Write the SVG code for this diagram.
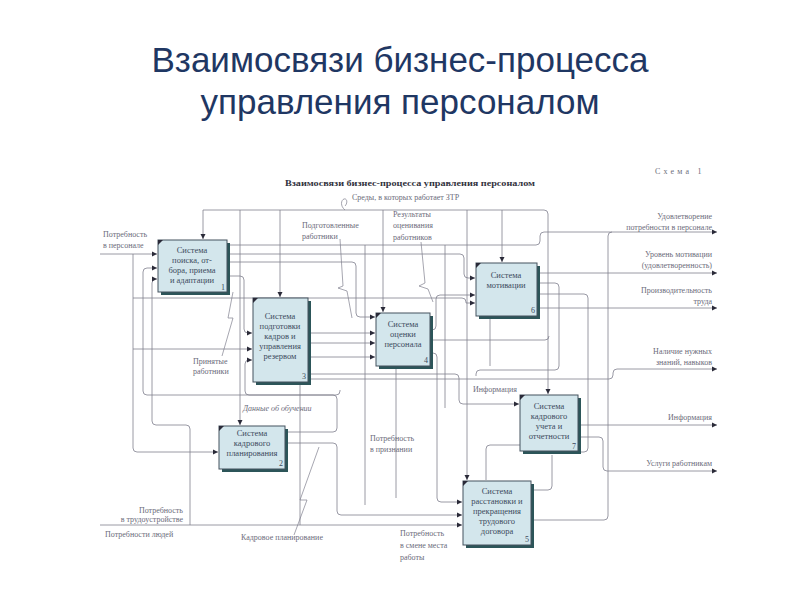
<svg xmlns="http://www.w3.org/2000/svg" width="800" height="600" viewBox="0 0 800 600">
<defs>
<marker id="ar" markerWidth="6" markerHeight="6" refX="5" refY="3" orient="auto" markerUnits="userSpaceOnUse">
<path d="M0,0.5 L5,3 L0,5.5 Z" fill="#2a2a38"/>
</marker>
</defs>
<style>
.title{font-family:"Liberation Sans",Arial,sans-serif;font-size:35px;fill:#1f3763;text-anchor:middle}
.cap{font-family:"Liberation Serif","Times New Roman",serif;font-size:9px;font-weight:bold;fill:#333340}
.lbl{font-family:"Liberation Serif","Times New Roman",serif;font-size:8px;fill:#6b6b7a}
.bt{font-family:"Liberation Serif","Times New Roman",serif;font-size:8.5px;fill:#3c4a5c;text-anchor:middle}
.num{font-family:"Liberation Serif","Times New Roman",serif;font-size:8px;fill:#3c4a5c;text-anchor:end}
.sh{fill:#2c5559}
.bx{fill:#d3e6ec;stroke:#44525e;stroke-width:1}
.cn{fill:#2a2a38}
.ln{fill:none;stroke:#80808e;stroke-width:0.8}
.la{fill:none;stroke:#80808e;stroke-width:0.8;marker-end:url(#ar)}
.zz{fill:none;stroke:#80808e;stroke-width:0.7}
</style>
<rect width="800" height="600" fill="#ffffff"/>
<text class="title" x="400" y="72">Взаимосвязи бизнес-процесса</text>
<text class="title" x="400" y="114">управления персоналом</text>
<text class="cap" x="285" y="186" textLength="250" lengthAdjust="spacingAndGlyphs">Взаимосвязи бизнес-процесса управления персоналом</text>
<text class="lbl" x="655" y="174" font-size="9" letter-spacing="3.2">Схема 1</text>

<g id="connectors">
<!-- top bus -->
<path class="la" d="M203,210 V239"/>
<path class="ln" d="M203,210 H544 Q548,210 548,214"/>
<path class="la" d="M548,214 V394"/>
<path class="la" d="M240,210 V425"/>
<path class="la" d="M280,210 V297"/>
<path class="la" d="M383,210 V312"/>
<path class="la" d="M467,210 V480"/>
<path class="la" d="M502,210 V262"/>
<path class="zz" d="M345,210 C340,206 341,200 344,199 C347,198 348,203 345,206"/>
<!-- left inputs -->
<path class="la" d="M100,254 H157"/>
<path class="la" d="M133,254 V448 Q133,452 137,452 H218"/>
<path class="la" d="M133,349 H252"/>
<path class="la" d="M133,298 H462 Q466,298 466,302 V303 H475"/>
<path class="la" d="M100,525 H462"/>
<path class="la" d="M190,525 V429 Q190,425 186,425 H156 Q152,425 152,421 V283 Q152,279 156,279 H157"/>
<path class="la" d="M340,390 V391 Q340,395 336,395 H147 Q143,395 143,391 V272 Q143,268 147,268 H157"/>
<!-- box1 outputs -->
<path class="la" d="M227,245 H536 Q540,245 540,241 V236 Q540,232 544,232 H717"/>
<path class="la" d="M227,254 H460 Q464,254 464,258 V274 Q464,278 468,278 H475"/>
<path class="la" d="M227,262 H352 Q356,262 356,266 V313 Q356,317 360,317 H375"/>
<path class="la" d="M227,276 H240 Q244,276 244,280 V329 Q244,333 248,333 H252"/>
<!-- box3 outputs -->
<path class="la" d="M308,333 H375"/>
<path class="la" d="M308,343 H375"/>
<path class="la" d="M308,357 H375"/>
<path class="la" d="M308,374 H455 Q459,374 459,378 V400 Q459,404 463,404 H519"/>
<path class="la" d="M308,379 H609 Q613,379 613,375 V373 Q613,369 617,369 H717"/>
<!-- box4 outputs -->
<path class="la" d="M430,330 H432 Q436,330 436,326 V299 Q436,295 440,295 H475"/>
<path class="la" d="M430,353 H433 Q437,353 437,357 V498 Q437,502 441,502 H462"/>
<path class="ln" d="M430,340 H545 Q549,340 549,336"/>
<path class="la" d="M537,308 H717"/>
<!-- box6 outputs -->
<path class="la" d="M537,273 H717"/>
<path class="ln" d="M537,283 H555 Q559,283 559,287 V366 Q559,370 555,370 H480 Q476,370 476,374 V376"/>
<path class="ln" d="M537,294 H584 Q588,294 588,298 V448 Q588,452 584,452 H578"/>
<!-- box7 outputs -->
<path class="la" d="M578,425 H717"/>
<path class="la" d="M578,437 H599 Q603,437 603,441 V467 Q603,471 607,471 H717"/>
<path class="ln" d="M520,445 H490 Q486,445 486,449 V480"/>
<!-- box5 output -->
<path class="ln" d="M531,520 H604 Q608,520 608,516 V236 Q608,232 612,232"/>
<path class="ln" d="M531,490 H548 Q552,490 552,486 V455"/>
<!-- box2 outputs -->
<path class="la" d="M285,432 H333 Q337,432 337,428 V399 Q337,395 333,395 H249 Q245,395 245,391 V364 Q245,360 249,360 H252"/>
<path class="la" d="M285,443 H333 Q337,443 337,447 V511 Q337,515 341,515 H462"/>
<!-- misc verticals -->
<path class="ln" d="M365,245 V505"/>
<path class="ln" d="M396,366 V498"/>
<path class="ln" d="M445,245 V408"/>
<path class="ln" d="M490,316 V366"/>
<path class="ln" d="M300,382 V525"/>
<!-- zigzag label pointers -->
<path class="zz" d="M233,292 L228,318 L233,318 L222,356"/>
<path class="zz" d="M340,239 L343,286 L338,288 L347,291 L352,318"/>
<path class="zz" d="M421,242 L425,283 L419,286 L428,289 L433,302"/>
<path class="zz" d="M294,535 L307,500 L300,500 L319,447"/>
</g>

<g id="labels">
<text class="lbl" x="103" y="237">Потребность</text>
<text class="lbl" x="103" y="248">в персонале</text>
<text class="lbl" x="352" y="200">Среды, в которых работает ЗТР</text>
<text class="lbl" x="302" y="228">Подготовленные</text>
<text class="lbl" x="302" y="239">работники</text>
<text class="lbl" x="393" y="217">Результаты</text>
<text class="lbl" x="393" y="228">оценивания</text>
<text class="lbl" x="393" y="240">работников</text>
<text class="lbl" x="712" y="219" text-anchor="end">Удовлетворение</text>
<text class="lbl" x="712" y="230" text-anchor="end">потребности в персонале</text>
<text class="lbl" x="712" y="257" text-anchor="end">Уровень мотивации</text>
<text class="lbl" x="712" y="268" text-anchor="end">(удовлетворенность)</text>
<text class="lbl" x="712" y="293" text-anchor="end">Производительность</text>
<text class="lbl" x="712" y="304" text-anchor="end">труда</text>
<text class="lbl" x="712" y="354" text-anchor="end">Наличие нужных</text>
<text class="lbl" x="712" y="365" text-anchor="end">знаний, навыков</text>
<text class="lbl" x="712" y="420" text-anchor="end">Информация</text>
<text class="lbl" x="712" y="466" text-anchor="end">Услуги работникам</text>
<text class="lbl" x="193" y="364">Принятые</text>
<text class="lbl" x="193" y="374">работники</text>
<text class="lbl" x="243" y="411" font-style="italic">Данные об обучении</text>
<text class="lbl" x="370" y="441">Потребность</text>
<text class="lbl" x="370" y="452">в признании</text>
<text class="lbl" x="473" y="392">Информация</text>
<text class="lbl" x="183" y="513" text-anchor="end">Потребность</text>
<text class="lbl" x="183" y="522" text-anchor="end">в трудоустройстве</text>
<text class="lbl" x="105" y="537">Потребности людей</text>
<text class="lbl" x="241" y="540">Кадровое планирование</text>
<text class="lbl" x="400" y="536">Потребность</text>
<text class="lbl" x="400" y="548">в смене места</text>
<text class="lbl" x="400" y="560">работы</text>
</g>

<g id="node1">
<rect class="sh" x="161" y="243" width="69" height="52"/>
<rect class="bx" x="158" y="240" width="69" height="52"/>
<path class="cn" d="M158,240 h5 l-5,5 z"/>
<text class="bt" x="192" y="253">Система</text>
<text class="bt" x="192" y="263">поиска, от-</text>
<text class="bt" x="192" y="273">бора, приема</text>
<text class="bt" x="192" y="283">и адаптации</text>
<text class="num" x="225" y="290">1</text>
</g>
<g id="node3">
<rect class="sh" x="256" y="301" width="55" height="84"/>
<rect class="bx" x="253" y="298" width="55" height="84"/>
<path class="cn" d="M253,298 h5 l-5,5 z"/>
<text class="bt" x="280" y="319">Система</text>
<text class="bt" x="280" y="329">подготовки</text>
<text class="bt" x="280" y="339">кадров и</text>
<text class="bt" x="280" y="349">управления</text>
<text class="bt" x="280" y="359">резервом</text>
<text class="num" x="306" y="379">3</text>
</g>
<g id="node4">
<rect class="sh" x="379" y="316" width="54" height="53"/>
<rect class="bx" x="376" y="313" width="54" height="53"/>
<path class="cn" d="M376,313 h5 l-5,5 z"/>
<text class="bt" x="403" y="327">Система</text>
<text class="bt" x="403" y="337">оценки</text>
<text class="bt" x="403" y="347">персонала</text>
<text class="num" x="428" y="363">4</text>
</g>
<g id="node6">
<rect class="sh" x="479" y="266" width="61" height="53"/>
<rect class="bx" x="476" y="263" width="61" height="53"/>
<path class="cn" d="M476,263 h5 l-5,5 z"/>
<text class="bt" x="506" y="278">Система</text>
<text class="bt" x="506" y="288">мотивации</text>
<text class="num" x="535" y="313">6</text>
</g>
<g id="node2">
<rect class="sh" x="222" y="429" width="66" height="43"/>
<rect class="bx" x="219" y="426" width="66" height="43"/>
<path class="cn" d="M219,426 h5 l-5,5 z"/>
<text class="bt" x="252" y="436">Система</text>
<text class="bt" x="252" y="446">кадрового</text>
<text class="bt" x="252" y="456">планирования</text>
<text class="num" x="283" y="466">2</text>
</g>
<g id="node7">
<rect class="sh" x="523" y="398" width="58" height="56"/>
<rect class="bx" x="520" y="395" width="58" height="56"/>
<path class="cn" d="M520,395 h5 l-5,5 z"/>
<text class="bt" x="549" y="409">Система</text>
<text class="bt" x="549" y="419">кадрового</text>
<text class="bt" x="549" y="429">учета и</text>
<text class="bt" x="549" y="439">отчетности</text>
<text class="num" x="576" y="449">7</text>
</g>
<g id="node5">
<rect class="sh" x="466" y="484" width="68" height="64"/>
<rect class="bx" x="463" y="481" width="68" height="64"/>
<path class="cn" d="M463,481 h5 l-5,5 z"/>
<text class="bt" x="497" y="494">Система</text>
<text class="bt" x="497" y="504">расстановки и</text>
<text class="bt" x="497" y="514">прекращения</text>
<text class="bt" x="497" y="524">трудового</text>
<text class="bt" x="497" y="534">договора</text>
<text class="num" x="529" y="542">5</text>
</g>
</svg>
